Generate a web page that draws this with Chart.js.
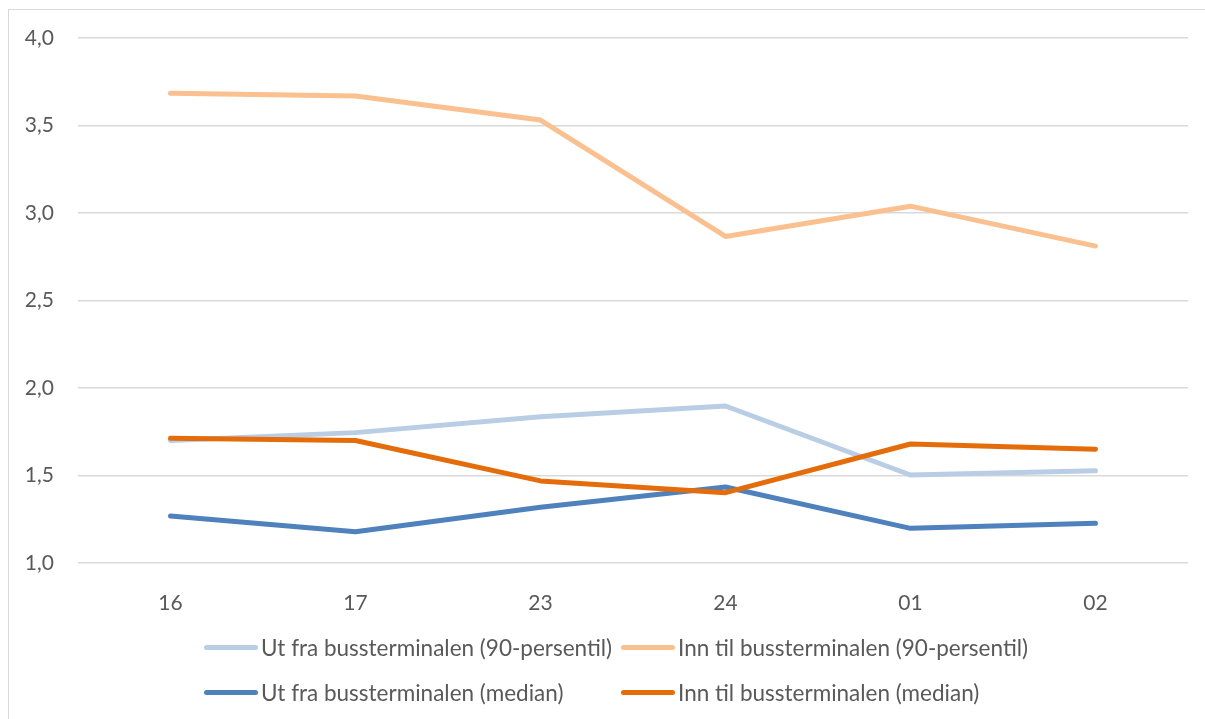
<!DOCTYPE html>
<html>
<head>
<meta charset="utf-8">
<script src="https://cdn.jsdelivr.net/npm/chart.js@4"></script>
<style>
  html, body { margin: 0; padding: 0; background: #fff; }
  #wrap { position: relative; width: 1205px; height: 719px; overflow: hidden; }
  #frame { position: absolute; left: 8px; top: 9px; width: 1300px; height: 800px; border: 1px solid #d9d9d9; }
  #chart { position: absolute; left: 0; top: 0; }
  .legend { position: absolute; font-family: Lato, sans-serif; font-size: 22.5px; color: #595959; white-space: nowrap; }
  .legend .item { position: absolute; display: flex; align-items: center; }
  .legend .swatch { width: 54px; height: 5px; border-radius: 3px; margin-right: 3px; }
</style>
</head>
<body>
<div id="wrap">
  <div id="frame"></div>
  <canvas id="chart" width="1205" height="719"></canvas>
  <div class="legend" id="legend"></div>
</div>
<script>
// categories (x axis)
const categories = ['16', '17', '23', '24', '01', '02'];

// series values
const utP90 = [1.70, 1.745, 1.836, 1.897, 1.503, 1.527];
const innP90 = [3.684, 3.669, 3.531, 2.866, 3.039, 2.811];
const utMedian = [1.269, 1.179, 1.319, 1.434, 1.198, 1.227];
const innMedian = [1.713, 1.70, 1.469, 1.402, 1.68, 1.65];

const seriesNames = [
  'Ut fra bussterminalen (90-persentil)',
  'Inn til bussterminalen (90-persentil)',
  'Ut fra bussterminalen (median)',
  'Inn til bussterminalen (median)'
];
const seriesColors = ['#B9CDE5', '#FAC090', '#4F81BD', '#E46C0A'];

// y ticks
const yMin = 1.0, yMax = 4.0, yStep = 0.5;

const font = { family: 'Lato, sans-serif', size: 21 };

function line(i, values) {
  return {
    label: seriesNames[i],
    data: values,
    borderColor: seriesColors[i],
    backgroundColor: seriesColors[i],
    borderWidth: 5,
    borderCapStyle: 'round',
    borderJoinStyle: 'round',
    pointRadius: 0,
    tension: 0,
    order: 4 - i
  };
}

const ctx = document.getElementById('chart').getContext('2d');
new Chart(ctx, {
  type: 'line',
  data: {
    labels: categories,
    datasets: [line(0, utP90), line(1, innP90), line(2, utMedian), line(3, innMedian)]
  },
  options: {
    responsive: false,
    animation: false,
    layout: { padding: { left: 0, top: 38, right: 17, bottom: 106 } },
    plugins: { legend: { display: false }, tooltip: { enabled: false } },
    scales: {
      x: {
        offset: true,
        grid: { display: false },
        border: { display: false },
        ticks: { color: '#595959', font: font, padding: 20, maxRotation: 0 },
        afterFit: s => { s.height = 50; }
      },
      y: {
        min: yMin,
        max: yMax,
        grid: { color: '#d9d9d9', lineWidth: 1.5, drawTicks: false },
        border: { display: false },
        ticks: {
          stepSize: yStep,
          color: '#595959',
          font: font,
          padding: 24,
          callback: v => v.toFixed(1).replace('.', ',')
        },
        afterFit: s => { s.width = 78; }
      }
    }
  }
});

// legend in two aligned columns
const legend = document.getElementById('legend');
const cols = [204, 621];
const rows = [647, 692];
seriesNames.forEach((name, i) => {
  const item = document.createElement('div');
  item.className = 'item';
  item.style.left = cols[i % 2] + 'px';
  item.style.top = (rows[Math.floor(i / 2)] - 14) + 'px';
  item.style.height = '28px';
  item.innerHTML = '<span class="swatch" style="background:' + seriesColors[i] + '"></span><span>' + name + '</span>';
  legend.appendChild(item);
});
</script>
</body>
</html>
